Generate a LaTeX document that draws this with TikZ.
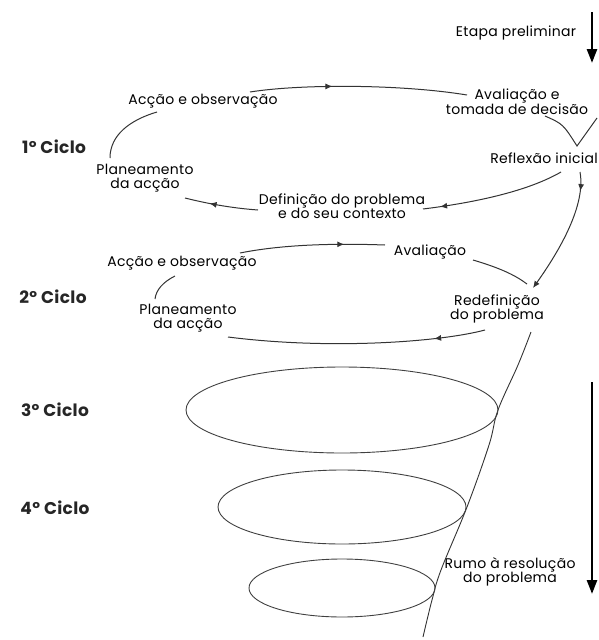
\documentclass[tikz,border=0pt]{standalone}
\usepackage{fontspec}
\setmainfont{Poppins}[LetterSpace=2]
\usetikzlibrary{arrows.meta,decorations.markings,shapes.geometric}
\tikzset{
  lbl/.style={font=\fontsize{14}{14}\selectfont, align=center, inner sep=1pt, text=black},
  cyc/.style={font=\bfseries\fontsize{17}{17}\selectfont, inner sep=1pt, text=black!85},
  con/.style={line width=1pt, draw=black!80},
  midarr/.style={postaction={decorate}, decoration={markings, mark=at position #1 with {\arrow{Latex[length=7pt,width=6pt]}}}},
  bigarr/.style={line width=2.6pt, -{Triangle[width=10pt,length=14pt]}},
  ell/.style={line width=0.9pt, draw=black!75}
}
\begin{document}
\begin{tikzpicture}[x=1pt,y=-1pt]
\useasboundingbox (0,0) rectangle (598,640);
% labels
\node[lbl] (etapa) at (516,33) {Etapa preliminar};
\node[cyc] (c1) at (54,147) {1º Ciclo};
\node[cyc] (c2) at (53,297) {2º Ciclo};
\node[cyc] (c3) at (55,410) {3º Ciclo};
\node[cyc] (c4) at (55,508) {4º Ciclo};
\node[lbl] (ao1) at (203,101) {Acção e observação};
\node[lbl] (av1) at (517,102) {Avaliação e\\tomada de decisão};
\node[lbl] (ri) at (544,158) {Reflexão inicial};
\node[lbl] (dp) at (342,206) {Definição do problema\\e do seu contexto};
\node[lbl] (pl1) at (145,178) {Planeamento\\da acção};
\node[lbl] (ao2) at (182,263) {Acção e observação};
\node[lbl] (pl2) at (188,318) {Planeamento\\da acção};
\node[lbl] (av2) at (430,252) {Avaliação};
\node[lbl] (rd) at (497,309) {Redefinição\\do problema};
\node[lbl] (rumo) at (510,572) {Rumo à resolução\\do problema};
% big arrows
\coordinate (t1) at (592,12);
\coordinate (t2) at (592,63);
\draw[bigarr] (t1) -- (t2);
\coordinate (b1) at (592,382);
\coordinate (b2) at (592,594);
\draw[bigarr] (b1) -- (b2);
% cycle 1
\coordinate (a1) at (250,92);
\coordinate (a2) at (467,95);
\draw[con, midarr=0.38] (a1) .. controls (300,84) and (400,84) .. (a2);
\coordinate (v1) at (545,116);
\coordinate (v2) at (577,146);
\coordinate (v3) at (597,118);
\draw[con] (v1) .. controls (563,124) .. (v2) -- (v3);
\coordinate (r1) at (561,172);
\coordinate (r2) at (423,209);
\draw[con, midarr=0.88] (r1) .. controls (530,190) and (480,202) .. (r2);
\coordinate (d1) at (258,210);
\coordinate (d2) at (185,198);
\draw[con, midarr=0.66] (d1) .. controls (230,208) and (205,203) .. (d2);
\coordinate (p1) at (110,158);
\coordinate (p2) at (157,112);
\draw[con] (p1) .. controls (110,135) and (130,120) .. (p2);
\coordinate (s1) at (580,172);
\coordinate (s2) at (533,288);
\draw[con, midarr=0.15, -{Latex[length=7pt,width=6pt]}] (s1) .. controls (586,205) and (560,250) .. (s2);
% cycle 2
\coordinate (e1) at (240,253);
\coordinate (e2) at (385,245);
\draw[con, midarr=0.72] (e1) .. controls (280,245) and (330,243) .. (e2);
\coordinate (f1) at (473,260);
\coordinate (f2) at (527,284);
\draw[con] (f1) .. controls (500,268) and (515,275) .. (f2);
\coordinate (g1) at (485,330);
\coordinate (g2) at (228,337);
\draw[con, midarr=0.2] (g1) .. controls (440,342) and (330,350) .. (g2);
\coordinate (h1) at (175,276);
\coordinate (h2) at (155,299);
\draw[con] (h1) .. controls (163,282) and (156,290) .. (h2);
% spiral
\draw[con, line width=0.9pt] plot[smooth, tension=0.6] coordinates {(531,332) (518,365) (498,410) (489,445) (467,507) (441,570) (432,600) (423,637)};
% ellipses
\node[ell, draw, ellipse, minimum width=312pt, minimum height=86pt, inner sep=0pt] (el3) at (342,410) {};
\node[ell, draw, ellipse, minimum width=248pt, minimum height=74pt, inner sep=0pt] (el4) at (342,507) {};
\node[ell, draw, ellipse, minimum width=186pt, minimum height=58pt, inner sep=0pt] (el5) at (342,588) {};
\end{tikzpicture}
\end{document}
